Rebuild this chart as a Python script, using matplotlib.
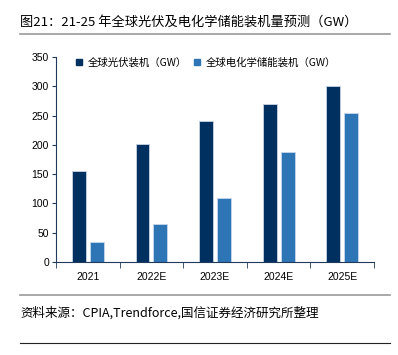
import numpy as np
import matplotlib.pyplot as plt
from matplotlib.lines import Line2D

plt.rcParams['font.family'] = ['Noto Sans CJK SC', 'DejaVu Sans']

years = ['2021', '2022E', '2023E', '2024E', '2025E']
pv = [155, 202, 240, 270, 300]
storage = [35, 65, 110, 187, 255]
yticks = [0, 50, 100, 150, 200, 250, 300, 350]

dark = '#00305f'
light = '#2e75b6'
axc = '#1f3a5a'

fig = plt.figure(figsize=(3.98, 3.55), dpi=100)
ax = fig.add_axes([56 / 398, 1 - 262 / 355, 318 / 398, 205 / 355])

x = np.arange(len(years))
w = 0.22
ax.bar(x - 0.14, pv, w, color=dark, edgecolor='#c8d4e4', linewidth=0.6)
ax.bar(x + 0.14, storage, w, color=light, edgecolor='#c8d8ec', linewidth=0.6)

ax.set_xlim(-0.5, len(years) - 0.5)
ax.set_ylim(0, 350)
ax.set_yticks(yticks)
ax.set_xticks(x)
ax.set_xticklabels(years)
ax.set_xticks(np.arange(len(years) + 1) - 0.5, minor=True)
ax.tick_params(axis='x', which='major', length=0, pad=7, labelsize=7.5)
ax.tick_params(axis='x', which='minor', length=4, direction='out', color=axc)
ax.tick_params(axis='y', length=3, direction='out', color=axc, labelsize=7.5, pad=2)
for lab in ax.get_xticklabels() + ax.get_yticklabels():
    lab.set_family('Liberation Sans')
for s in ['top', 'right']:
    ax.spines[s].set_visible(False)
ax.spines['left'].set_color(axc)
ax.spines['bottom'].set_color(axc)

handles = [Line2D([], [], marker='s', linestyle='', color=dark, markersize=5),
           Line2D([], [], marker='s', linestyle='', color=light, markersize=5)]
ax.legend(handles, ['全球光伏装机（GW）', '全球电化学储能装机（GW）'], loc='upper left',
          bbox_to_anchor=(0.03, 1.045), ncol=2, frameon=False, fontsize=7.5,
          handlelength=0.8, handletextpad=0.4, columnspacing=0.6)

fig.text(20 / 398, 1 - 22 / 355, '图21：21-25 年全球光伏及电化学储能装机量预测（GW）',
         fontsize=9.5, va='center', ha='left')
fig.add_artist(Line2D([20 / 398, 390 / 398], [1 - 34 / 355] * 2, color='#999999', linewidth=1.2))
fig.add_artist(Line2D([20 / 398, 390 / 398], [1 - 295 / 355] * 2, color='#999999', linewidth=1.2))
fig.text(20 / 398, 1 - 313 / 355, '资料来源：CPIA,Trendforce,国信证券经济研究所整理',
         fontsize=9, va='center', ha='left')
fig.add_artist(Line2D([20 / 398, 390 / 398], [1 - 343 / 355] * 2, color='#222222', linewidth=0.8))

fig.savefig('out.png', dpi=100)
